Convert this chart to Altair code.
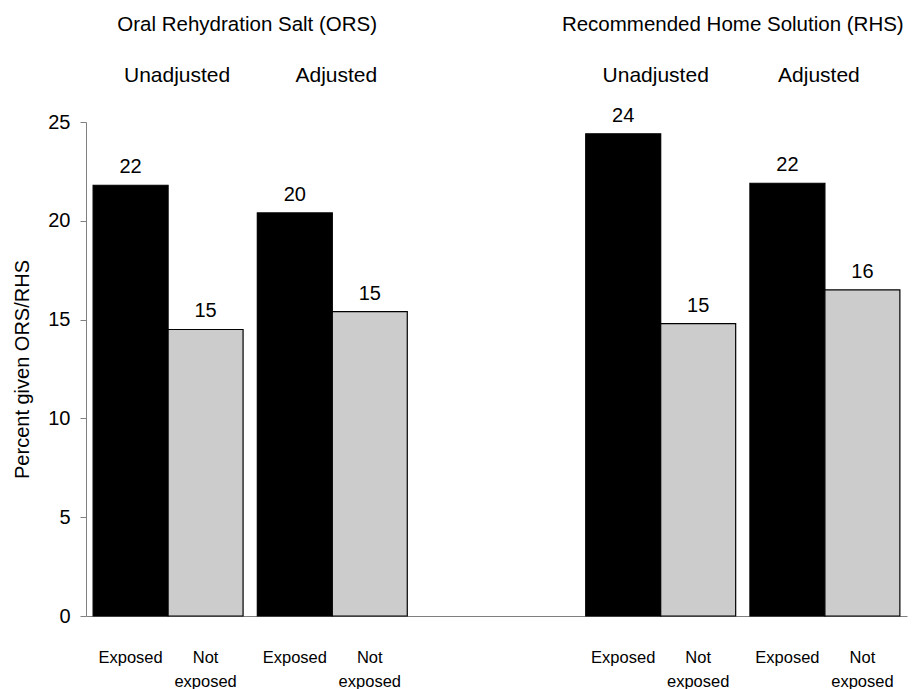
import altair as alt
import pandas as pd

# ---- data ----
group_domain = ["ORS_U", "ORS_A", "gap", "RHS_U", "RHS_A"]
exposure_domain = ["Exposed", "Not exposed"]

bar_groups = ["ORS_U", "ORS_U", "ORS_A", "ORS_A", "RHS_U", "RHS_U", "RHS_A", "RHS_A"]
bar_exposure = ["Exposed", "Not exposed"] * 4
bar_values = [21.8, 14.5, 20.4, 15.4, 24.4, 14.8, 21.9, 16.5]
bar_value_labels = ["22", "15", "20", "15", "24", "15", "22", "16"]
bar_x_labels = ["Exposed", "Not\nexposed"] * 4

header_groups = ["ORS_U", "ORS_A", "RHS_U", "RHS_A"]
header_texts = ["Unadjusted", "Adjusted", "Unadjusted", "Adjusted"]

title_groups = ["ORS_U", "RHS_U"]
title_texts = ["Oral Rehydration Salt (ORS)", "Recommended Home Solution (RHS)"]

y_ticks = [0, 5, 10, 15, 20, 25]

FONT = "Liberation Sans"

bars_df = pd.DataFrame({
    "group": bar_groups,
    "exposure": bar_exposure,
    "value": bar_values,
    "label": bar_value_labels,
    "xlab": bar_x_labels,
})
headers_df = pd.DataFrame({"group": header_groups, "text": header_texts})
titles_df = pd.DataFrame({"group": title_groups, "text": title_texts})

x_scale = alt.Scale(domain=group_domain, paddingInner=0, paddingOuter=0)
xoff_scale = alt.Scale(domain=exposure_domain, paddingInner=0, paddingOuter=0.095)
y_scale = alt.Scale(domain=[0, 25], nice=False)

x_enc = alt.X("group:N", scale=x_scale,
              axis=alt.Axis(labels=False, ticks=False, title=None,
                            domainColor="#808080", domainWidth=1))
xoff_enc = alt.XOffset("exposure:N", scale=xoff_scale)
y_enc = alt.Y("value:Q", scale=y_scale,
              axis=alt.Axis(values=y_ticks, grid=False, domainColor="#808080",
                            tickColor="#808080", tickSize=6, labelPadding=10,
                            labelFontSize=20, labelColor="black", labelFont=FONT,
                            title="Percent given ORS/RHS", titleFontSize=20,
                            titleFontWeight="normal", titleFont=FONT, titleColor="black",
                            titleAngle=270, titleX=-64,
                            titleAlign="center", titleBaseline="middle"))

base = alt.Chart(bars_df)

bars = base.mark_bar(stroke="black", strokeWidth=1.2).encode(
    x=x_enc, xOffset=xoff_enc, y=y_enc,
    color=alt.Color("exposure:N",
                    scale=alt.Scale(domain=exposure_domain, range=["#000000", "#cccccc"]),
                    legend=None),
)

value_text = base.mark_text(baseline="alphabetic", dy=-12, fontSize=20,
                            font=FONT, color="black").encode(
    x=x_enc, xOffset=xoff_enc, y=alt.Y("value:Q"), text="label:N"
)

x_labels = base.mark_text(baseline="alphabetic", dy=47, fontSize=16.5, font=FONT,
                          color="black", lineBreak="\n", lineHeight=24).encode(
    x=x_enc, xOffset=xoff_enc, y=alt.datum(0), text="xlab:N"
)

header_dx = {"ORS_U": 9, "ORS_A": 4, "RHS_U": -5, "RHS_A": -6}
header_layers = []
for g in header_groups:
    header_layers.append(
        alt.Chart(headers_df[headers_df.group == g]).mark_text(
            baseline="alphabetic", fontSize=21, font=FONT, color="black",
            dx=header_dx[g]).encode(
            x=alt.X("group:N", scale=x_scale), y=alt.value(-40), text="text:N"
        )
    )

title_dx = {"ORS_U": -3, "RHS_U": -10}
title_layers = []
for g in title_groups:
    title_layers.append(
        alt.Chart(titles_df[titles_df.group == g]).mark_text(
            baseline="alphabetic", fontSize=20.5, font=FONT, color="black",
            dx=title_dx[g]).encode(
            x=alt.X("group:N", scale=x_scale, bandPosition=1), y=alt.value(-91),
            text="text:N"
        )
    )

chart = alt.layer(bars, value_text, x_labels, *header_layers, *title_layers).properties(
    width=821, height=494,
    background="white",
    autosize=alt.AutoSizeParams(type="none"),
    padding={"left": 86, "top": 122, "right": 10, "bottom": 73},
).configure_view(stroke=None)

chart.save("out.html", embed_options={"renderer": "svg", "actions": False})
